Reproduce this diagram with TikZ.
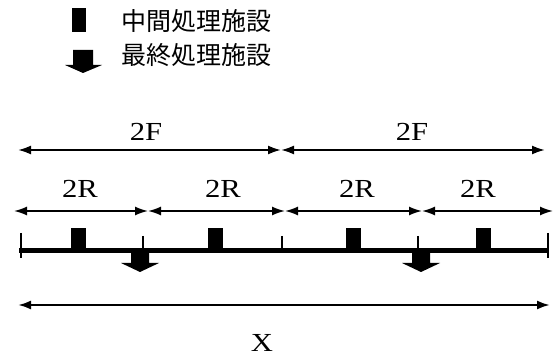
\documentclass[tikz,border=0pt]{standalone}
\usepackage{fontspec}
\setmainfont{Liberation Serif}
\newfontfamily\labfont[FakeStretch=1.18]{Liberation Serif}
\newfontfamily\jp{Noto Sans CJK JP}
\usetikzlibrary{arrows.meta}
\begin{document}
\begin{tikzpicture}[x=1pt,y=-1pt,
  dim/.style={line width=2pt,{Latex[length=13pt,width=9pt]}-{Latex[length=13pt,width=9pt]}},
  lbl/.style={inner sep=0pt,font=\labfont\fontsize{26}{26}\selectfont},
  jplbl/.style={inner sep=0pt,anchor=west,font=\jp\fontsize{25}{25}\selectfont},
  facility/.style={fill=black,draw=none},
  tick/.style={line width=1.3pt}]
\useasboundingbox (0,0) rectangle (555,358);
% legend
\fill[facility] (72,8) rectangle (86,32);
\fill[facility] (73,50) -- (93,50) -- (93,65) -- (102,65) -- (83,73) -- (65,65) -- (73,65) -- cycle;
\node[jplbl] (l1) at (121,21) {中間処理施設};
\node[jplbl] (l2) at (121,55) {最終処理施設};
% 2F
\coordinate (f0) at (18,150);
\coordinate (f1) at (281,150);
\coordinate (f2) at (545,150);
\draw[dim] (f0) -- (f1);
\draw[dim] (f1) -- (f2);
\node[lbl] (F1) at (146,132) {2F};
\node[lbl] (F2) at (412,132) {2F};
% 2R
\coordinate (r0) at (14,211);
\coordinate (r1) at (148,211);
\coordinate (r2) at (285,211);
\coordinate (r3) at (422,211);
\coordinate (r4) at (553,211);
\draw[dim,line width=1.6pt] (r0) -- (r1);
\draw[dim,line width=1.6pt] (r1) -- (r2);
\draw[dim,line width=1.6pt] (r2) -- (r3);
\draw[dim,line width=1.6pt] (r3) -- (r4);
\node[lbl] (R1) at (80,189) {2R};
\node[lbl] (R2) at (223,189) {2R};
\node[lbl] (R3) at (357,189) {2R};
\node[lbl] (R4) at (478,189) {2R};
% baseline
\coordinate (b0) at (19,251);
\coordinate (b1) at (549,251);
\draw[line width=5pt] (b0) -- (b1);
\foreach \x in {21,548} \draw[tick] (\x,233) -- (\x,258);
\foreach \x in {143,282,418} \draw[tick] (\x,236) -- (\x,251);
% intermediate facilities
\foreach \x in {71,208,346,476} \fill[facility] (\x,228) rectangle (\x+15,251);
% final facilities
\foreach \c in {140,421} \fill[facility] (\c-9,251) -- (\c+9,251) -- (\c+9,263) -- (\c+19,263) -- (\c,272) -- (\c-19,263) -- (\c-9,263) -- cycle;
% X
\coordinate (x0) at (18,305);
\coordinate (x1) at (550,305);
\draw[dim,line width=2.2pt] (x0) -- (x1);
\node[lbl] (X) at (262,343) {X};
\end{tikzpicture}
\end{document}
